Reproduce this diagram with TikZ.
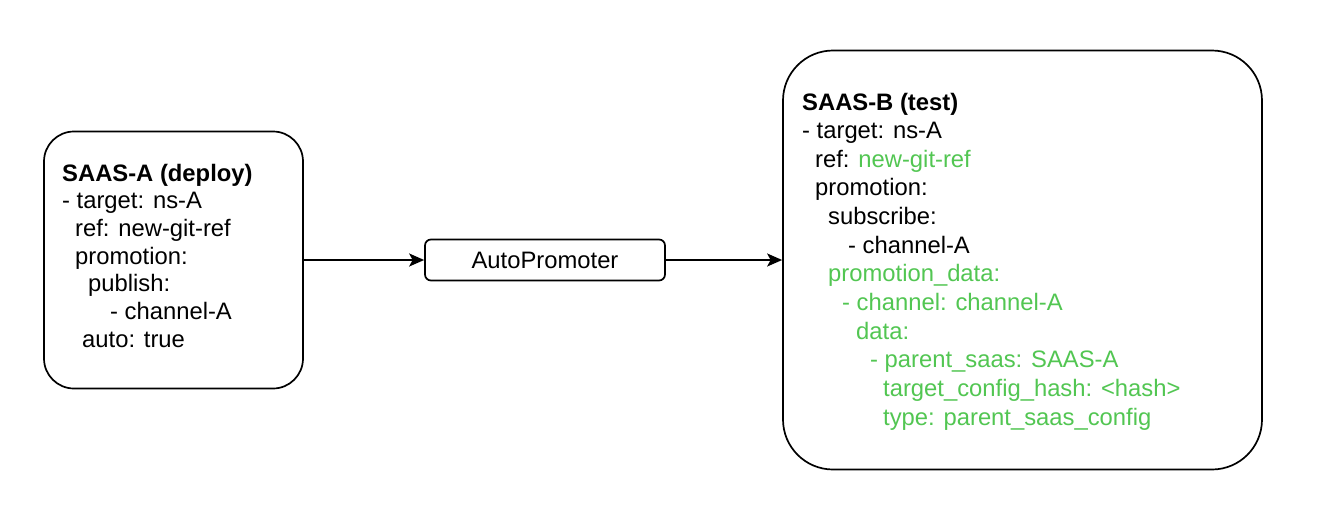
\documentclass[tikz,border=0pt]{standalone}
\usepackage{fontspec}
\setmainfont{Liberation Sans}
\usetikzlibrary{arrows.meta}
\definecolor{yamlgreen}{HTML}{52C652}
\tikzset{
  box/.style={draw=black, line width=1.7pt, rounded corners=#1, fill=white, inner sep=0pt},
  box/.default=30pt,
  ln/.style={anchor=base west, inner sep=0pt, font=\fontsize{23.8}{28}\selectfont},
  gr/.style={ln, text=yamlgreen},
  conn/.style={draw=black, line width=1.8pt, -{Stealth[length=15pt, width=13pt, inset=3.5pt]}}
}
\begin{document}
\begin{tikzpicture}[x=1pt, y=-1pt]
\useasboundingbox (0,0) rectangle (1318,528);
% boxes
\node[box=30pt, minimum width=259pt, minimum height=257pt] (A) at (173.5,260) {};
\node[box=50pt, minimum width=479pt, minimum height=419pt] (B) at (1022.5,260) {};
\node[box=6pt, minimum width=240pt, minimum height=41pt, font=\fontsize{23.8}{28}\selectfont] (P) at (545,260) {AutoPromoter};
% connectors
\draw[conn] (A.east) -- (P.west);
\draw[conn] (P.east) -- (B.west);
% text of A
\node[ln, font=\fontsize{23.8}{28}\selectfont\bfseries] (a1) at (62,181) {SAAS-A (deploy)};
\node[ln] (a2) at (62,208.7) {- target: ns-A};
\node[ln] (a3) at (75,236.3) {ref: new-git-ref};
\node[ln] (a4) at (75,264) {promotion:};
\node[ln] (a5) at (88,291.7) {publish:};
\node[ln] (a6) at (110,319.3) {- channel-A};
\node[ln] (a7) at (82,347) {auto: true};
% text of B
\node[ln, font=\fontsize{23.8}{28}\selectfont\bfseries] (b1) at (802,110) {SAAS-B (test)};
\node[ln] (b2) at (802,138.6) {- target: ns-A};
\node[ln] (b3) at (815,167.3) {ref: \textcolor{yamlgreen}{new-git-ref}};
\node[ln] (b4) at (815,195.9) {promotion:};
\node[ln] (b5) at (828,224.6) {subscribe:};
\node[ln] (b6) at (848,253.2) {- channel-A};
\node[gr] (b7) at (828,281.8) {promotion\_data:};
\node[gr] (b8) at (842,310.5) {- channel: channel-A};
\node[gr] (b9) at (856,339.1) {data:};
\node[gr] (b10) at (870,367.8) {- parent\_saas: SAAS-A};
\node[gr] (b11) at (883,396.4) {target\_config\_hash: <hash>};
\node[gr] (b12) at (883,425) {type: parent\_saas\_config};
\end{tikzpicture}
\end{document}
